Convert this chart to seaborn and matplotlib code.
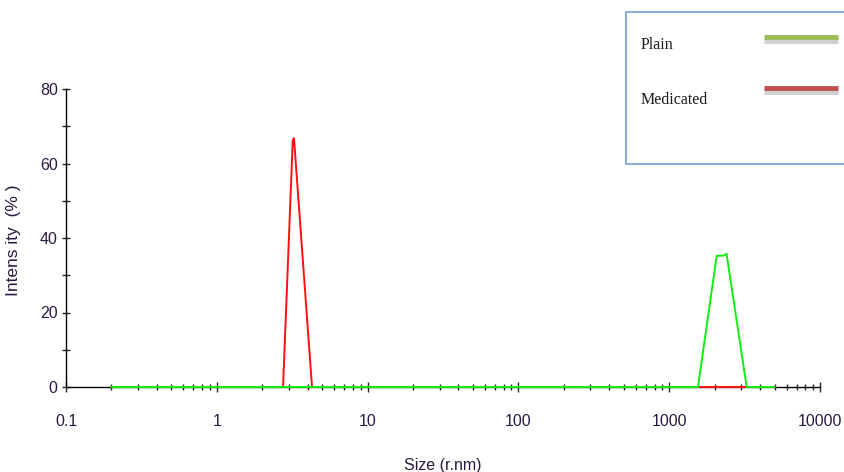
import numpy as np
import pandas as pd
import matplotlib
matplotlib.use("Agg")
import matplotlib.pyplot as plt
import seaborn as sns
from matplotlib.ticker import LogLocator, FixedLocator, NullFormatter

# ---- data ----
plain_size = [0.2, 1552, 2065, 2300, 2400, 3265, 5000]
plain_int = [0, 0, 35.2, 35.3, 35.8, 0, 0]
med_size = [0.2, 2.75, 3.19, 3.25, 4.28, 5000]
med_int = [0, 0, 66.3, 66.8, 0, 0]
x_ticks = [0.1, 1, 10, 100, 1000, 10000]
x_tick_labels = ["0.1", "1", "10", "100", "1000", "10000"]
y_ticks = [0, 20, 40, 60, 80]
series_names = ["Plain", "Medicated"]

df = pd.concat([
    pd.DataFrame({"size": med_size, "intensity": med_int, "series": "Medicated"}),
    pd.DataFrame({"size": plain_size, "intensity": plain_int, "series": "Plain"}),
], ignore_index=True)

sns.set_style("white")
plt.rcParams["font.family"] = ["Liberation Sans", "DejaVu Sans"]

fig = plt.figure(figsize=(8.45, 4.72), dpi=100)
ax = fig.add_axes([66/845, 1-387/472, (820-66)/845, (387-89)/472])

sns.lineplot(data=df, x="size", y="intensity", hue="series",
             hue_order=["Medicated", "Plain"],
             palette={"Medicated": "#FF1010", "Plain": "#10F010"},
             linewidth=1.4, legend=False, ax=ax, sort=False, estimator=None)
for ln in ax.get_lines():
    ln.set_clip_on(False)
    ln.set_zorder(3)

ax.set_xscale("log")
ax.set_xlim(0.1, 10000)
ax.set_ylim(0, 80)
ax.set_xticks(x_ticks)
ax.set_xticklabels(x_tick_labels)
ax.xaxis.set_minor_locator(LogLocator(base=10, subs=np.arange(2, 10)))
ax.xaxis.set_minor_formatter(NullFormatter())
ax.set_yticks(y_ticks)
ax.yaxis.set_minor_locator(FixedLocator([10, 30, 50, 70]))

for s in ["top", "right"]:
    ax.spines[s].set_visible(False)
for s in ["left", "bottom"]:
    ax.spines[s].set_color("black")
    ax.spines[s].set_linewidth(1.0)
    ax.spines[s].set_zorder(1)

ax.tick_params(axis="x", which="major", direction="inout", length=7, width=1,
               pad=16, labelsize=11.5, labelcolor="#2a1a40")
ax.tick_params(axis="x", which="minor", direction="inout", length=5, width=1)
ax.tick_params(axis="y", which="major", direction="inout", length=6, width=1,
               pad=3, labelsize=11.5, labelcolor="#2a1a40")
ax.tick_params(axis="y", which="minor", direction="inout", length=6, width=1)
ax.tick_params(left=True, bottom=True, which="both")

ax.set_xlabel("Size (r.nm)", fontsize=11.5, color="#2a1a40")
ax.xaxis.set_label_coords((443-66)/754, -(458-387)/298)
ax.set_ylabel("Intens ity  (% )", fontsize=12.5, color="#2a1a40")
ax.yaxis.set_label_coords(-(66-21)/754, (387-240)/298)
ax.grid(False)

# ---- legend box ----
lax = fig.add_axes([626/845, 1-164/472, (850-626)/845, (164-12)/472])
lax.set_xlim(626, 850)
lax.set_ylim(164, 12)
lax.set_xticks([])
lax.set_yticks([])
for s in ["left", "top", "bottom"]:
    lax.spines[s].set_color("#7FA3D6")
    lax.spines[s].set_linewidth(1.3)
lax.spines["right"].set_visible(False)
lax.patch.set_facecolor("white")

legend_colors = ["#9BBB59", "#C0504D"]
legend_text_y = [45, 100]
legend_line_y = [37.5, 88.5]
for name, col, ty, ly in zip(series_names, legend_colors, legend_text_y, legend_line_y):
    lax.text(641, ty, name, fontsize=11.5, family=["Liberation Serif", "DejaVu Serif"],
             va="center", ha="left", color="#1a1a1a")
    lax.plot([764, 838], [ly + 4, ly + 4], color="#cfcfcf", lw=3.5, solid_capstyle="butt")
    lax.plot([764, 838], [ly, ly], color=col, lw=3.5, solid_capstyle="butt")

fig.savefig("out.png", dpi=100)
